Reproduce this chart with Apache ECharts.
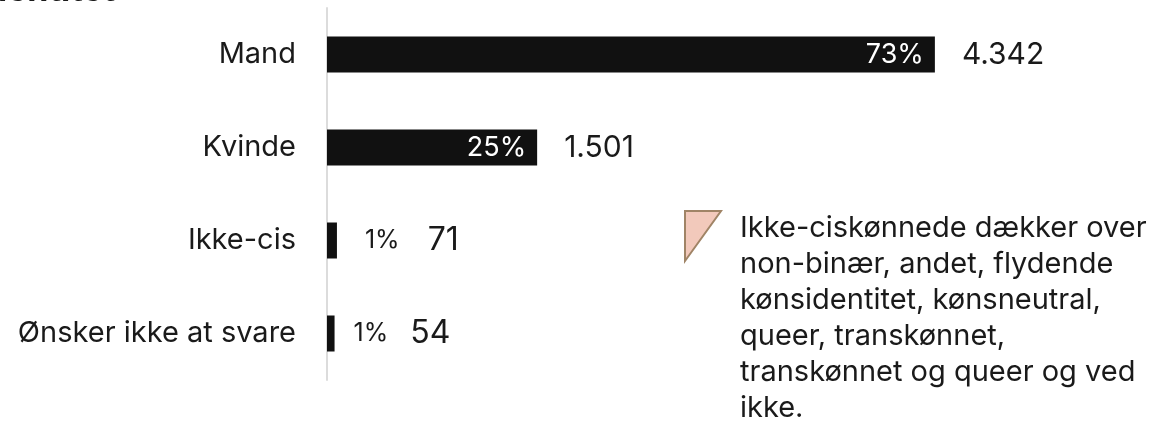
<!DOCTYPE html>
<html>
<head>
<meta charset="utf-8">
<script src="https://cdn.jsdelivr.net/npm/echarts@6/dist/echarts.min.js"></script>
<style>
  html, body { margin: 0; padding: 0; background: #ffffff; }
  #chart { width: 1161px; height: 421px; }
</style>
</head>
<body>
<div id="chart"></div>
<script>
// Kønsidentitet blandt respondenterne
const categories = ['Mand', 'Kvinde', 'Ikke-cis', 'Ønsker ikke at svare'];
const counts = [4342, 1501, 71, 54];
const noteLines = [
  'Ikke-ciskønnede dækker over',
  'non-binær, andet, flydende',
  'kønsidentitet, kønsneutral,',
  'queer, transkønnet,',
  'transkønnet og queer og ved',
  'ikke.'
];

const FONT = 'Inter, "Noto Sans", sans-serif';
const INK = '#1a1a1a';
const BAR = '#111111';

const total = counts.reduce((a, b) => a + b, 0);
const pct = counts.map(v => Math.round(v / total * 100));
const fmtDa = v => String(v).replace(/\B(?=(\d{3})+(?!\d))/g, '.');
const isSmall = counts.map(v => v / total < 0.05);

const chart = echarts.init(document.getElementById('chart'), null, { renderer: 'canvas' });

// percentage inside the long bars
const barData = counts.map((v, i) => ({
  value: v,
  label: isSmall[i]
    ? { show: false }
    : { show: true, position: 'insideRight', distance: 11, color: '#ffffff', fontSize: 27, fontFamily: FONT,
        formatter: pct[i] + '%' }
}));

// counts to the right of each bar; short bars also carry their percentage there
const smallGap = [28, 19];
const smallSep = [28, 22];
let smallIdx = 0;
const valueData = counts.map((v, i) => {
  if (!isSmall[i]) {
    return { value: v, label: { show: true, position: 'right', distance: 27, formatter: fmtDa(v) } };
  }
  const k = smallIdx++;
  return {
    value: v,
    label: {
      show: true, position: 'right', distance: smallGap[k],
      formatter: '{p|' + pct[i] + '%}{s|}{v|' + fmtDa(v) + '}',
      rich: {
        p: { fontSize: 25, color: INK, fontFamily: FONT },
        s: { width: smallSep[k] },
        v: { fontSize: 32, color: INK, fontFamily: FONT }
      }
    }
  };
});

const option = {
  animation: false,
  backgroundColor: '#ffffff',
  grid: { left: 327, top: 8, bottom: 41, width: 700 },
  xAxis: { type: 'value', min: 0, max: 5000, show: false },
  yAxis: {
    type: 'category',
    data: categories,
    inverse: true,
    axisLine: { show: true, lineStyle: { color: '#dcdcdc', width: 2 } },
    axisTick: { show: false },
    axisLabel: { color: INK, fontSize: 29, fontFamily: FONT, margin: 31 }
  },
  series: [
    {
      type: 'bar', data: barData, barWidth: 36,
      itemStyle: { color: BAR }, z: 2
    },
    {
      type: 'bar', data: valueData, barWidth: 36, barGap: '-100%',
      itemStyle: { color: 'rgba(0,0,0,0)' },
      label: { color: INK, fontSize: 30, fontFamily: FONT }, z: 3
    }
  ],
  graphic: [
    {
      type: 'text', x: 115, y: 8,
      style: { text: 'Kønsidentitet', align: 'right', verticalAlign: 'bottom',
               font: 'bold 34px ' + FONT, fill: INK }
    },
    {
      type: 'polygon',
      shape: { points: [[685, 211], [721, 211], [685, 261]] },
      style: { fill: '#f2c9bb', stroke: '#a08466', lineWidth: 2 }
    },
    {
      type: 'text', x: 740, y: 210,
      style: { text: noteLines.join('\n'), font: '29px ' + FONT, fill: INK,
               lineHeight: 36, verticalAlign: 'top', align: 'left' }
    }
  ]
};

chart.setOption(option);
</script>
</body>
</html>
